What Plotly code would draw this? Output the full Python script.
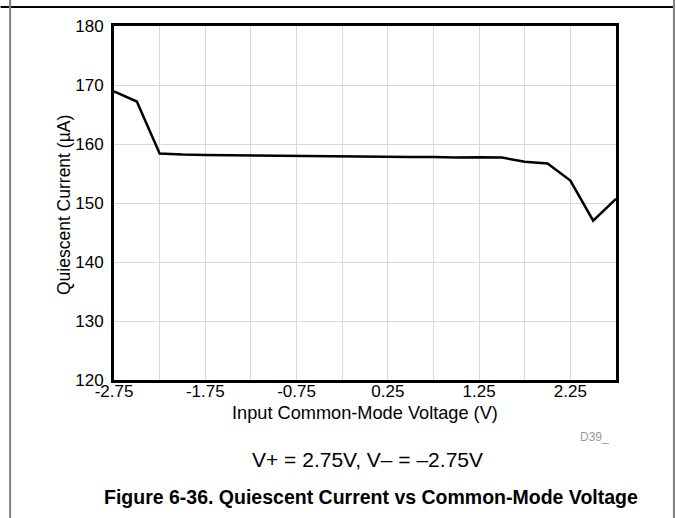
import plotly.graph_objects as go

# Data
vcm = [-2.75, -2.5, -2.25, -2.0, -1.75, -1.5, -1.25, -1.0, -0.75, -0.5, -0.25, 0.0,
       0.25, 0.5, 0.75, 1.0, 1.25, 1.5, 1.75, 2.0, 2.25, 2.5, 2.75]
iq = [168.9, 167.2, 158.4, 158.2, 158.15, 158.1, 158.1, 158.05, 158.0, 157.95, 157.9, 157.85,
      157.8, 157.8, 157.8, 157.7, 157.75, 157.7, 157.0, 156.7, 153.8, 147.0, 150.7]
x_tickvals = [-2.75, -2.25, -1.75, -1.25, -0.75, -0.25, 0.25, 0.75, 1.25, 1.75, 2.25, 2.75]
x_ticktext = ["-2.75", "", "-1.75", "", "-0.75", "", "0.25", "", "1.25", "", "2.25", ""]
y_tickvals = [120, 130, 140, 150, 160, 170, 180]

W, H = 676, 518
L, R, T, B = 113.5, 616, 26, 380

def px(x):
    return (x - L) / (R - L)

def py(y):
    return (B - y) / (B - T)

FONT = "Liberation Sans, Arial, sans-serif"

fig = go.Figure()
fig.add_trace(go.Scatter(x=vcm, y=iq, mode="lines",
                         line=dict(color="black", width=2.5), showlegend=False))

fig.update_layout(
    width=W, height=H,
    margin=dict(l=L, r=W - R, t=T, b=H - B, pad=0),
    paper_bgcolor="white", plot_bgcolor="white",
    font=dict(family=FONT, size=17, color="black"),
    xaxis=dict(range=[-2.75, 2.75], tickvals=x_tickvals, ticktext=x_ticktext,
               showgrid=True, gridcolor="#d9d9d9", gridwidth=1,
               showline=True, linecolor="black", linewidth=3, mirror=True,
               ticks="", zeroline=False, tickfont=dict(size=17),
               ticklabelstandoff=-6),
    yaxis=dict(range=[120, 180], tickvals=y_tickvals,
               showgrid=True, gridcolor="#d9d9d9", gridwidth=1,
               showline=True, linecolor="black", linewidth=3, mirror=True,
               ticks="", zeroline=False, tickfont=dict(size=17),
               ticklabelstandoff=4),
)

def note(xp, yp, text, size, color="black", angle=0):
    fig.add_annotation(x=px(xp), y=py(yp), xref="paper", yref="paper", text=text,
                       showarrow=False, xanchor="center", yanchor="middle",
                       textangle=angle, font=dict(size=size, color=color))

# Axis titles
note(365, 413, "Input Common-Mode Voltage (V)", 18.2)
note(63.5, 205, "Quiescent Current (µA)", 17.5, angle=-90)

# Page border lines
fig.add_shape(type="line", xref="paper", yref="paper", x0=px(0), x1=px(674), y0=py(7), y1=py(7),
              line=dict(color="black", width=2), layer="above")
fig.add_shape(type="line", xref="paper", yref="paper", x0=px(9.5), x1=px(9.5), y0=py(0), y1=py(518),
              line=dict(color="#808080", width=2), layer="above")
fig.add_shape(type="line", xref="paper", yref="paper", x0=px(674), x1=px(674), y0=py(0), y1=py(518),
              line=dict(color="#808080", width=2), layer="above")

note(594.5, 437, "D39_", 12, color="#999999")
note(367, 459, "V+ = 2.75V, V– = –2.75V", 21)
note(371, 497, "<b>Figure 6-36. Quiescent Current vs Common-Mode Voltage</b>", 19.5)

fig.write_html("out.html", config={"displayModeBar": False},
               post_script="document.body.style.margin='0';")
